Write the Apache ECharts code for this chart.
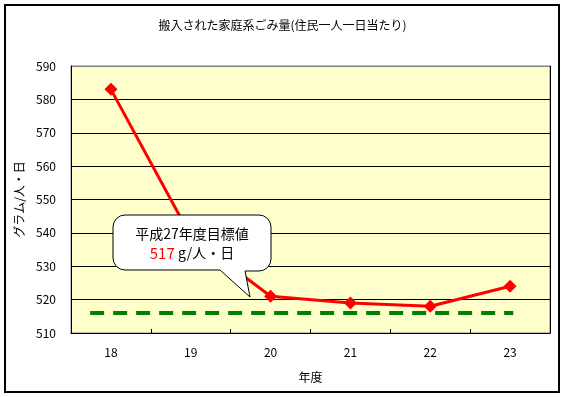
<!DOCTYPE html>
<html>
<head>
<meta charset="utf-8">
<script src="https://cdn.jsdelivr.net/npm/echarts@6/dist/echarts.min.js"></script>
<style>
  html, body { margin: 0; padding: 0; background: #fff; }
  #plot { width: 565px; height: 397px; }
</style>
</head>
<body>
<div id="plot"></div>
<script>
// 年度と1人1日当たりの量 (g)
var years = ['18', '19', '20', '21', '22', '23'];
var amounts = [583, 539, 521, 519, 518, 524];
// 目標値の破線 (横位置は x 軸上の 0..6 の位置)
var targetX = [0.24, 5.54];
var targetValue = [516, 516];

var font = '"Noto Sans CJK JP", sans-serif';

var myChart = echarts.init(document.getElementById('plot'));

// 吹き出しの輪郭 (角を丸めた多角形)
function roundCorner(cx, cy, r, a0, a1) {
  var pts = [];
  for (var i = 0; i <= 4; i++) {
    var a = (a0 + (a1 - a0) * i / 4) * Math.PI / 180;
    pts.push([cx + r * Math.cos(a), cy + r * Math.sin(a)]);
  }
  return pts;
}
var bubble = [].concat(
  roundCorner(125, 227, 12, 180, 270),
  roundCorner(259, 227, 12, 270, 360),
  roundCorner(259, 259, 12, 0, 90),
  [[245, 271], [250, 297], [220, 270]],
  roundCorner(125, 258, 12, 90, 180)
);

var option = {
  backgroundColor: '#fff',
  animation: false,
  title: {
    text: '搬入された家庭系ごみ量(住民一人一日当たり)',
    left: 'center',
    top: 14,
    textStyle: { fontFamily: font, fontSize: 12, fontWeight: 'normal', color: '#000' }
  },
  grid: {
    left: 71, right: 15, top: 66, bottom: 64,
    show: true,
    backgroundColor: '#FFFFCC',
    borderColor: '#808080',
    borderWidth: 1
  },
  xAxis: [{
    type: 'category',
    data: years,
    boundaryGap: true,
    name: '年度',
    nameLocation: 'middle',
    nameGap: 38,
    nameTextStyle: { fontFamily: font, fontSize: 12, color: '#000' },
    axisLine: { lineStyle: { color: '#000', width: 1 } },
    axisTick: { show: true, inside: true, length: 4, lineStyle: { color: '#000' } },
    axisLabel: { fontFamily: font, fontSize: 12, color: '#000', margin: 13 },
    splitLine: { show: false }
  }, {
    // 破線用の隠れた軸
    type: 'value',
    min: 0, max: 6,
    show: false
  }],
  yAxis: [{
    type: 'value',
    min: 510, max: 590, interval: 10,
    name: 'グラム/人・日',
    nameLocation: 'middle',
    nameGap: 46,
    nameTextStyle: { fontFamily: font, fontSize: 12, color: '#000' },
    axisLine: { show: true, lineStyle: { color: '#000', width: 1 } },
    axisTick: { show: false },
    axisLabel: { fontFamily: font, fontSize: 12, color: '#000', margin: 15 },
    splitLine: {
      show: true,
      lineStyle: {
        color: ['#000', '#000', '#000', '#000', '#000', '#000', '#000', '#000', '#808080'],
        width: 1
      }
    }
  }, {
    type: 'value',
    min: 510, max: 590, interval: 10,
    position: 'right',
    axisLine: { show: true, lineStyle: { color: '#000', width: 1 } },
    axisTick: { show: false },
    axisLabel: { show: false },
    splitLine: { show: false }
  }],
  series: [{
    name: '目標値',
    type: 'line',
    xAxisIndex: 1,
    data: targetX.map(function (x, i) { return [x, targetValue[i]]; }),
    symbol: 'none',
    lineStyle: { color: '#008000', width: 4, type: [14, 9] },
    z: 2
  }, {
    name: '搬入量',
    type: 'line',
    data: amounts,
    symbol: 'diamond',
    symbolSize: 13,
    itemStyle: { color: '#FF0000' },
    lineStyle: { color: '#FF0000', width: 3 },
    z: 3
  }],
  graphic: [{
    type: 'rect',
    shape: { x: 5, y: 5, width: 554, height: 387 },
    style: { fill: 'none', stroke: '#000', lineWidth: 2 },
    z: 100
  }, {
    type: 'polygon',
    shape: { points: bubble },
    style: { fill: '#fff', stroke: '#000', lineWidth: 1 },
    z: 50
  }, {
    type: 'text',
    x: 192, y: 234,
    style: {
      text: '平成27年度目標値',
      fontFamily: font, fontSize: 14, fill: '#000',
      align: 'center', verticalAlign: 'middle'
    },
    z: 51
  }, {
    type: 'text',
    x: 192, y: 253,
    style: {
      text: '{r|517} {b|g/人・日}',
      align: 'center', verticalAlign: 'middle',
      rich: {
        r: { fontFamily: font, fontSize: 15, fill: '#FF0000' },
        b: { fontFamily: font, fontSize: 14, fill: '#000' }
      }
    },
    z: 51
  }]
};

myChart.setOption(option);
</script>
</body>
</html>
